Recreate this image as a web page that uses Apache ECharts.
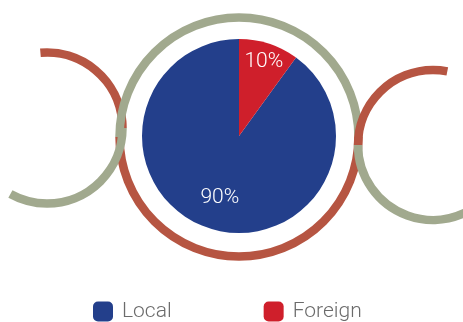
<!DOCTYPE html>
<html>
<head>
<meta charset="utf-8">
<script src="https://cdn.jsdelivr.net/npm/echarts@6/dist/echarts.min.js"></script>
<style>
  html, body { margin: 0; padding: 0; background: #fff; }
  #chart { width: 463px; height: 322px; }
</style>
</head>
<body>
<div id="chart"></div>
<script>
// Share of workforce by origin
const categories = ['Local', 'Foreign'];
const shares = [90, 10];
const sliceColors = ['#233f8b', '#cf1f2b'];

const GREEN = '#a1a98e';
const BRICK = '#b65542';
const LINE = 8.5;
const deg = Math.PI / 180;

const pieCenter = [239, 136];
const pieRadius = 97;
// radial position of each percentage label, as a fraction of the radius
const labelRadius = [0.64, 0.83];

// ornamental interlaced rings behind the pie
function ring(cx, cy, r, a0, a1, color, z) {
  return {
    type: 'arc',
    z: z,
    silent: true,
    shape: { cx: cx, cy: cy, r: r, startAngle: a0 * deg, endAngle: a1 * deg, clockwise: true },
    style: { stroke: color, lineWidth: LINE, fill: null, lineCap: 'butt' }
  };
}

const total = shares.reduce((a, b) => a + b, 0);
// mid angle of each slice (degrees, counter-clockwise from 12 o'clock)
const midAngles = [];
let acc = 0;
shares.forEach(v => {
  const span = v / total * 360;
  midAngles.push(90 + acc + span / 2);
  acc += span;
});

const chart = echarts.init(document.getElementById('chart'), null, { renderer: 'canvas' });

chart.setOption({
  animation: false,
  backgroundColor: '#ffffff',
  graphic: [
    // left small ring
    ring(47, 128, 75.5, -95, 0, BRICK, 1),
    ring(47, 128, 75.5, 0, 119, GREEN, 2),
    // big ring around the pie
    ring(239, 137, 119.5, 0, 180, BRICK, 1),
    ring(239, 137, 119.5, 180, 360, GREEN, 2),
    // right small ring
    ring(433, 145, 75, 20, 180, GREEN, 1),
    ring(433, 145, 75, 180, 281, BRICK, 3)
  ],
  legend: {
    data: categories,
    left: 93,
    top: 301,
    padding: 0,
    icon: 'roundRect',
    itemWidth: 20,
    itemHeight: 20,
    itemGap: 92,
    textStyle: {
      color: '#6b6b6b',
      fontSize: 21,
      fontFamily: 'Roboto',
      fontWeight: 300,
      padding: [0, 0, 0, 4]
    }
  },
  series: [{
    type: 'pie',
    center: pieCenter,
    radius: [0, pieRadius],
    startAngle: 90,
    clockwise: false,
    z: 10,
    silent: true,
    data: categories.map((name, i) => ({
      name: name,
      value: shares[i],
      itemStyle: { color: sliceColors[i] }
    })),
    label: {
      show: true,
      position: 'inside',
      formatter: '{c}%',
      color: '#ffffff',
      fontSize: 21,
      fontFamily: 'Roboto',
      fontWeight: 300
    },
    labelLine: { show: false },
    labelLayout: function (params) {
      const i = params.dataIndex;
      const a = midAngles[i] * deg;
      const r = pieRadius * labelRadius[i];
      return {
        x: pieCenter[0] + r * Math.cos(a),
        y: pieCenter[1] - r * Math.sin(a) + 2.5,
        align: 'center',
        verticalAlign: 'middle'
      };
    }
  }]
});
</script>
</body>
</html>
